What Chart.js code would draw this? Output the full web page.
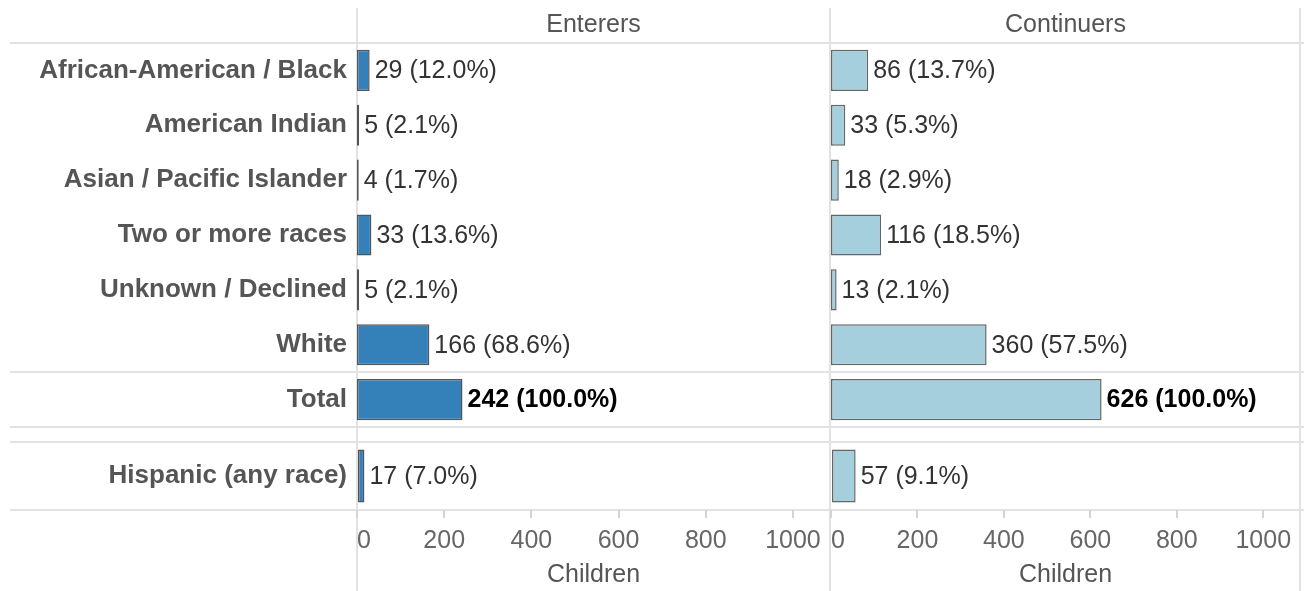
<!DOCTYPE html>
<html>
<head>
<meta charset="utf-8">
<script src="https://cdn.jsdelivr.net/npm/chart.js@4.4.1/dist/chart.umd.min.js"></script>
<style>
  body { margin: 0; background: #fff; width: 1304px; height: 591px; overflow: hidden; position: relative; }
  .box { position: absolute; }
  .hline { position: absolute; left: 10px; width: 1294px; height: 2px; background: #e2e2e2; }
  .vline { position: absolute; top: 8px; bottom: 0; width: 2px; background: #e2e2e2; }
</style>
</head>
<body>

<!-- table frame lines -->
<div class="hline" style="top:42px"></div>
<div class="hline" style="top:371px"></div>
<div class="hline" style="top:426px"></div>
<div class="hline" style="top:441px"></div>
<div class="hline" style="top:509px"></div>
<div class="vline" style="left:356px"></div>
<div class="vline" style="left:829px"></div>
<div class="vline" style="left:1299px"></div>

<div class="box" style="left:0;top:0;width:830px;height:427px"><canvas id="entMain"></canvas></div>
<div class="box" style="left:800px;top:0;width:500px;height:427px"><canvas id="conMain"></canvas></div>
<div class="box" style="left:0;top:442px;width:830px;height:149px"><canvas id="entHisp"></canvas></div>
<div class="box" style="left:800px;top:442px;width:500px;height:149px"><canvas id="conHisp"></canvas></div>

<script>
// ---- data ----
const raceLabels = ["African-American / Black", "American Indian", "Asian / Pacific Islander",
  "Two or more races", "Unknown / Declined", "White", "Total"];
const enterers = [29, 5, 4, 33, 5, 166, 242];
const enterersPct = [12.0, 2.1, 1.7, 13.6, 2.1, 68.6, 100.0];
const continuers = [86, 33, 18, 116, 13, 360, 626];
const continuersPct = [13.7, 5.3, 2.9, 18.5, 2.1, 57.5, 100.0];

const hispLabels = ["Hispanic (any race)"];
const enterersHisp = [17];
const enterersHispPct = [7.0];
const continuersHisp = [57];
const continuersHispPct = [9.1];

const xMax = 1085;

Chart.defaults.font.family = 'Arial, "Liberation Sans", sans-serif';

// write "n (p%)" next to each bar
const valueLabels = {
  id: 'valueLabels',
  afterDatasetsDraw(chart) {
    const ctx = chart.ctx;
    const ds = chart.data.datasets[0];
    const meta = chart.getDatasetMeta(0);
    ctx.save();
    ctx.textBaseline = 'middle';
    ctx.textAlign = 'left';
    meta.data.forEach(function (bar, i) {
      const isTotal = chart.data.labels[i] === 'Total';
      ctx.font = (isTotal ? 'bold ' : '') + '25px Arial, "Liberation Sans", sans-serif';
      ctx.fillStyle = isTotal ? '#000' : '#333';
      ctx.fillText(ds.data[i] + ' (' + ds.pcts[i].toFixed(1) + '%)', bar.x + 5, bar.y + 1);
    });
    ctx.restore();
  }
};

function xScale(title, bottom) {
  return {
    type: 'linear', min: 0, max: xMax,
    position: bottom ? 'bottom' : 'top',
    ticks: {
      display: bottom, stepSize: 200, includeBounds: false, color: '#666',
      font: { size: 25 }, padding: 8, maxRotation: 0, autoSkip: false,
      // no thousands separator; nudge the 0 so it sits right of the axis line
      callback: function (v) { return v === 0 ? '  0' : String(v); }
    },
    grid: { display: bottom, drawOnChartArea: false, drawTicks: true, tickLength: 8,
      color: '#d4d4d4', lineWidth: 2 },
    border: { display: false },
    title: { display: true, text: title, color: '#555', font: { size: 25 },
      padding: bottom ? { top: 0, bottom: 1 } : { top: 10, bottom: 0 } },
    afterFit: function (s) { s.height = bottom ? 81 : 43; s.paddingLeft = 0; s.paddingRight = 0; }
  };
}

function yScale(showLabels, width) {
  return {
    ticks: { display: showLabels, color: '#555', font: { size: 26, weight: 'bold' }, padding: 10, autoSkip: false },
    grid: { display: false, drawTicks: false },
    border: { display: false },
    afterFit: function (s) { s.width = width; s.paddingTop = 0; s.paddingBottom = 0; }
  };
}

function makeChart(id, labels, values, pcts, fill, edge, barPct, xTitle, bottomAxis, showLabels, yWidth) {
  return new Chart(document.getElementById(id), {
    type: 'bar',
    plugins: [valueLabels],
    data: {
      labels: labels,
      datasets: [{
        data: values,
        pcts: pcts,
        backgroundColor: fill,
        borderColor: edge,
        borderWidth: 1.5,
        borderSkipped: false,
        barPercentage: barPct,
        categoryPercentage: 1
      }]
    },
    options: {
      indexAxis: 'y',
      responsive: true,
      maintainAspectRatio: false,
      animation: false,
      layout: { padding: 0 },
      plugins: { legend: { display: false }, tooltip: { enabled: false } },
      scales: {
        x: xScale(xTitle, bottomAxis),
        y: yScale(showLabels, yWidth)
      }
    }
  });
}

const blue = '#3480b9', blueEdge = '#555';
const light = '#a6cfdd', lightEdge = '#666';

makeChart('entMain', raceLabels, enterers, enterersPct, blue, blueEdge, 0.75, 'Enterers', false, true, 357);
makeChart('conMain', raceLabels, continuers, continuersPct, light, lightEdge, 0.75, 'Continuers', false, false, 31);
makeChart('entHisp', hispLabels, enterersHisp, enterersHispPct, blue, blueEdge, 0.78, 'Children', true, true, 357);
makeChart('conHisp', hispLabels, continuersHisp, continuersHispPct, light, lightEdge, 0.78, 'Children', true, false, 31);
</script>
</body>
</html>
